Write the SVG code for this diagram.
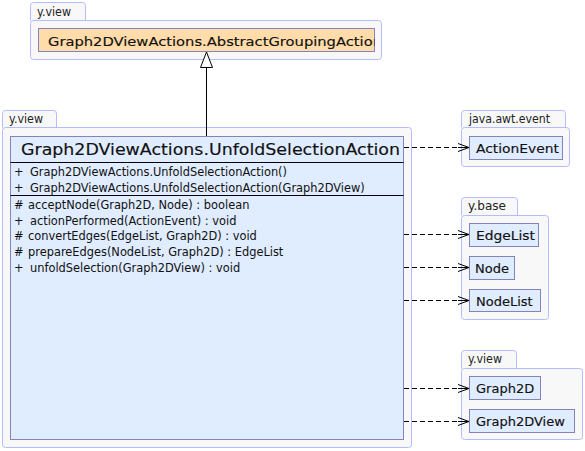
<svg xmlns="http://www.w3.org/2000/svg" width="585" height="451" viewBox="0 0 585 451">
<style>
.pkg{fill:#f8f8f8;stroke:#b4bcff;stroke-width:1}
.cls{fill:#e0ecff;stroke:#8484bc;stroke-width:1}
.cls2{fill:#ffdcaa;stroke:#8484bc;stroke-width:1}
.plab{font-family:"DejaVu Sans",sans-serif;font-size:12px;fill:#222}
.cname{font-family:"DejaVu Sans",sans-serif;font-size:13px;fill:#111;stroke:#111;stroke-width:0.15}
.title{font-family:"DejaVu Sans",sans-serif;font-size:16px;fill:#111;stroke:#111;stroke-width:0.15}
.mem{font-family:"DejaVu Sans",sans-serif;font-size:11.4px;fill:#111}
.dash{fill:none;stroke:#000;stroke-width:1;stroke-dasharray:5,3}
.sep{stroke:#000;stroke-width:1}
</style>
<defs>
<marker id="open" markerWidth="12" markerHeight="10" refX="11" refY="5" orient="auto" markerUnits="userSpaceOnUse">
<path d="M0,1 L11,5 L0,9 M0,5 L11,5" fill="none" stroke="#000" stroke-width="1"/>
</marker>
<clipPath id="clipTop"><rect x="38.5" y="28.5" width="336" height="23"/></clipPath>
</defs>

<g id="pkg-yview-top">
<path class="pkg" d="M30.5,20.5 L30.5,5.5 Q30.5,2.5 33.5,2.5 L82.5,2.5 Q85.5,2.5 85.5,5.5 L85.5,20.5"/>
<rect class="pkg" x="30.5" y="20.5" width="351" height="39" rx="3"/>
<text class="plab" x="37" y="16" textLength="34" lengthAdjust="spacingAndGlyphs">y.view</text>
</g>
<g id="AbstractGroupingAction">
<rect class="cls2" x="38.5" y="28.5" width="336" height="23"/>
<text class="cname" x="48" y="45.5" clip-path="url(#clipTop)" textLength="334" lengthAdjust="spacingAndGlyphs">Graph2DViewActions.AbstractGroupingAction</text>
</g>

<g id="pkg-yview-main">
<path class="pkg" d="M2.5,127.5 L2.5,113.5 Q2.5,110.5 5.5,110.5 L53.5,110.5 Q56.5,110.5 56.5,113.5 L56.5,127.5"/>
<rect class="pkg" x="2.5" y="127.5" width="409" height="320" rx="3"/>
<text class="plab" x="9" y="123" textLength="34" lengthAdjust="spacingAndGlyphs">y.view</text>
</g>
<g id="UnfoldSelectionAction">
<rect class="cls" x="10.5" y="136.5" width="393" height="303"/>
<text class="title" x="21" y="155" textLength="379" lengthAdjust="spacingAndGlyphs">Graph2DViewActions.UnfoldSelectionAction</text>
<line class="sep" x1="10.5" y1="162.5" x2="403.5" y2="162.5"/>
<text class="mem" y="175.5"><tspan x="14">+</tspan><tspan x="30">Graph2DViewActions.UnfoldSelectionAction()</tspan></text>
<text class="mem" y="192"><tspan x="14">+</tspan><tspan x="30">Graph2DViewActions.UnfoldSelectionAction(Graph2DView)</tspan></text>
<line class="sep" x1="10.5" y1="195.5" x2="403.5" y2="195.5"/>
<text class="mem" y="208.5"><tspan x="14">#</tspan><tspan x="28">acceptNode(Graph2D, Node) : boolean</tspan></text>
<text class="mem" y="224.5"><tspan x="14">+</tspan><tspan x="30">actionPerformed(ActionEvent) : void</tspan></text>
<text class="mem" y="240"><tspan x="14">#</tspan><tspan x="28">convertEdges(EdgeList, Graph2D) : void</tspan></text>
<text class="mem" y="255.5"><tspan x="14">#</tspan><tspan x="28">prepareEdges(NodeList, Graph2D) : EdgeList</tspan></text>
<text class="mem" y="271.5"><tspan x="14">+</tspan><tspan x="30">unfoldSelection(Graph2DView) : void</tspan></text>
</g>

<g id="pkg-java-awt-event">
<path class="pkg" d="M461.5,127.5 L461.5,113.5 Q461.5,110.5 464.5,110.5 L562.5,110.5 Q565.5,110.5 565.5,113.5 L565.5,127.5"/>
<rect class="pkg" x="461.5" y="127.5" width="108" height="39" rx="3"/>
<text class="plab" x="469" y="123" textLength="81" lengthAdjust="spacingAndGlyphs">java.awt.event</text>
</g>
<g id="ActionEvent">
<rect class="cls" x="469.5" y="136.5" width="93" height="23"/>
<text class="cname" x="476" y="153" textLength="83" lengthAdjust="spacingAndGlyphs">ActionEvent</text>
</g>

<g id="pkg-ybase">
<path class="pkg" d="M461.5,215.5 L461.5,200.5 Q461.5,197.5 464.5,197.5 L514.5,197.5 Q517.5,197.5 517.5,200.5 L517.5,215.5"/>
<rect class="pkg" x="461.5" y="215.5" width="87" height="104" rx="3"/>
<text class="plab" x="468" y="210" textLength="38" lengthAdjust="spacingAndGlyphs">y.base</text>
</g>
<g id="EdgeList">
<rect class="cls" x="469.5" y="223.5" width="69" height="23"/>
<text class="cname" x="476" y="240" textLength="59" lengthAdjust="spacingAndGlyphs">EdgeList</text>
</g>
<g id="Node">
<rect class="cls" x="469.5" y="256.5" width="45" height="23"/>
<text class="cname" x="475" y="273">Node</text>
</g>
<g id="NodeList">
<rect class="cls" x="469.5" y="289.5" width="71" height="22"/>
<text class="cname" x="476" y="306">NodeList</text>
</g>

<g id="pkg-yview-bottom">
<path class="pkg" d="M461.5,368.5 L461.5,353.5 Q461.5,350.5 464.5,350.5 L513.5,350.5 Q516.5,350.5 516.5,353.5 L516.5,368.5"/>
<rect class="pkg" x="461.5" y="368.5" width="121" height="71" rx="3"/>
<text class="plab" x="468" y="363" textLength="34" lengthAdjust="spacingAndGlyphs">y.view</text>
</g>
<g id="Graph2D">
<rect class="cls" x="469.5" y="376.5" width="71" height="23"/>
<text class="cname" x="476" y="393">Graph2D</text>
</g>
<g id="Graph2DView">
<rect class="cls" x="469.5" y="409.5" width="105" height="23"/>
<text class="cname" x="476" y="426">Graph2DView</text>
</g>

<g id="connectors">
<line x1="206.5" y1="67" x2="206.5" y2="136" stroke="#000" stroke-width="1"/>
<path d="M206.5,52 L200.5,67.5 L212.5,67.5 Z" fill="#fff" stroke="#000" stroke-width="1"/>
<line class="dash" x1="404" y1="147.5" x2="469" y2="147.5" marker-end="url(#open)"/>
<line class="dash" x1="404" y1="234.5" x2="469" y2="234.5" marker-end="url(#open)"/>
<line class="dash" x1="404" y1="267.5" x2="469" y2="267.5" marker-end="url(#open)"/>
<line class="dash" x1="404" y1="300.5" x2="469" y2="300.5" marker-end="url(#open)"/>
<line class="dash" x1="404" y1="388.5" x2="469" y2="388.5" marker-end="url(#open)"/>
<line class="dash" x1="404" y1="421.5" x2="469" y2="421.5" marker-end="url(#open)"/>
</g>
</svg>
